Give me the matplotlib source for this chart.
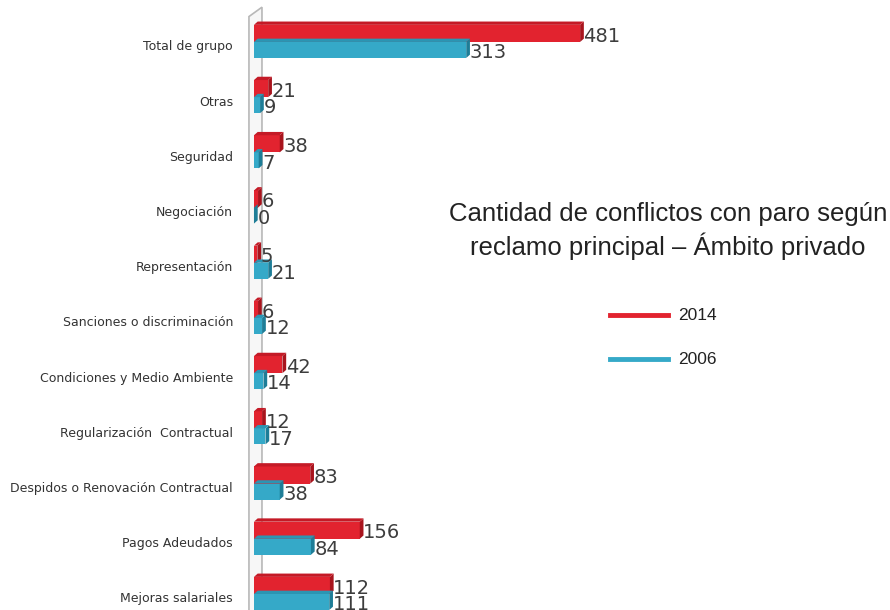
import matplotlib
matplotlib.use("Agg")
import matplotlib.pyplot as plt
from matplotlib.lines import Line2D
from matplotlib.patches import Polygon

categories = ["Total de grupo", "Otras", "Seguridad", "Negociación", "Representación",
              "Sanciones o discriminación", "Condiciones y Medio Ambiente",
              "Regularización  Contractual", "Despidos o Renovación Contractual",
              "Pagos Adeudados", "Mejoras salariales"]
values_2014 = [481, 21, 38, 6, 5, 6, 42, 12, 83, 156, 112]
values_2006 = [313, 9, 7, 0, 21, 12, 14, 17, 38, 84, 111]
series_names = ["2014", "2006"]
title = "Cantidad de conflictos con paro según\nreclamo principal – Ámbito privado"

red, red_dark, red_top = "#e2232f", "#a8141d", "#c41a26"
cyan, cyan_dark, cyan_top = "#35a9c8", "#1e7d97", "#2b95b3"

W, H = 890, 610
fig = plt.figure(figsize=(W / 100, H / 100), dpi=100)
fig.patch.set_facecolor("white")
ax = fig.add_axes([240 / W, 0, 1 - 240 / W, 1])
ax.set_xlim(-20.6, 938)
ax.set_ylim(10.2, -0.85)
ax.axis("off")

# 3D-looking side wall
wall = Polygon([(-7.4, 10.6), (-7.4, -0.55), (11.8, -0.72), (11.8, 10.6)],
               closed=True, facecolor="#f7f7f7", edgecolor="#b8b8b8", lw=1.2, zorder=1)
ax.add_patch(wall)

ypos = list(range(len(categories)))
h_red, off_red = 0.31, -0.245
h_cy, off_cy = 0.29, 0.055
dx, dy = 5.5, 0.06  # depth in data units

def bars3d(vals, offset, height, face, side, top):
    ys = [y + offset for y in ypos]
    ax.barh(ys, vals, height=height, left=0, color=face, zorder=3)
    for v, y in zip(vals, ys):
        y0, y1 = y - height / 2, y + height / 2
        ax.add_patch(Polygon([(v, y0), (v + dx, y0 - dy), (v + dx, y1 - dy), (v, y1)],
                             closed=True, facecolor=side, edgecolor="none", zorder=4))
        ax.add_patch(Polygon([(0, y0), (dx, y0 - dy), (v + dx, y0 - dy), (v, y0)],
                             closed=True, facecolor=top, edgecolor="none", zorder=4))
    return ys

ys_r = bars3d(values_2014, off_red, h_red, red, red_dark, red_top)
ys_c = bars3d(values_2006, off_cy, h_cy, cyan, cyan_dark, cyan_top)

for v, y in zip(values_2014, ys_r):
    ax.text(v + 5, y + 0.05, str(v), fontsize=14, color="#3d3d3d", va="center", ha="left", zorder=6)
for v, y in zip(values_2006, ys_c):
    ax.text(v + 5, y + 0.05, str(v), fontsize=14, color="#3d3d3d", va="center", ha="left", zorder=6)

for cat, y in zip(categories, ypos):
    ax.text(-31, y, cat, fontsize=9, color="#333333", ha="right", va="center")

fig.text(668 / W, 1 - 231 / H, title, fontsize=18.5, family="Liberation Sans",
         color="#222222", ha="center", va="center", linespacing=1.25)

for name, col, yp in zip(series_names, [red, cyan], [315, 359]):
    fig.add_artist(Line2D([610 / W, 668 / W], [1 - yp / H] * 2, color=col, lw=3.5))
    fig.text(678 / W, 1 - yp / H, name, fontsize=12.5, family="Liberation Sans",
             color="#222222", ha="left", va="center")

fig.savefig("out.png", dpi=100)
